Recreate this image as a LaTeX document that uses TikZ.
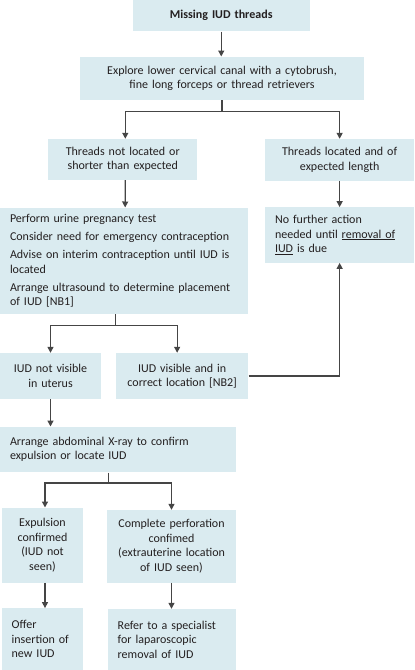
\documentclass[tikz,border=0pt]{standalone}
\usepackage{fontspec}
\setmainfont{Carlito}
\usetikzlibrary{arrows.meta,calc}
\definecolor{boxfill}{HTML}{DAEBF0}
\definecolor{linec}{HTML}{454545}
\definecolor{txt}{HTML}{231F20}
\tikzset{
  box/.style={fill=boxfill,draw=none,inner xsep=10pt,inner ysep=1pt,text=txt,
    font=\fontsize{12}{14.5}\selectfont},
  conn/.style={draw=linec,line width=1.3pt},
  arr/.style={conn,-{Triangle[length=6pt,width=6pt]}}
}
\newcommand\bx[7]{%
 \pgfmathsetmacro\myBW{#4-#2}\pgfmathsetmacro\myBH{#5-#3}%
 \pgfmathsetmacro\myCX{(#2+#4)/2}\pgfmathsetmacro\myCY{-(#3+#5)/2}%
 \pgfmathsetmacro\myTW{#4-#2-20}%
 \node[box,minimum width=\myBW pt,minimum height=\myBH pt,text width=\myTW pt,align=#6] (#1) at (\myCX pt,\myCY pt) {#7};}
\begin{document}
\begin{tikzpicture}
\useasboundingbox (0,0) rectangle (415pt,-670pt);
\bx{b1}{132.5}{0}{310}{31.3}{center}{\textbf{Missing IUD threads}}
\bx{b2}{80}{56.7}{364}{100}{center}{Explore lower cervical canal with a cytobrush,\\fine long forceps or thread retrievers}
\bx{b3}{48.3}{139}{197.3}{180}{center}{Threads not located or\\shorter than expected}
\bx{b4}{265}{139}{414.3}{180.7}{center}{Threads located and of\\expected length}
\bx{b5}{0}{207.7}{248.3}{314}{left}{Perform urine pregnancy test\\[3.5pt]Consider need for emergency contraception\\[3.5pt]Advise on interim contraception until IUD is\\located\\[3.5pt]Arrange ultrasound to determine placement\\of IUD [NB1]}
\bx{b6}{265}{207.3}{414.3}{262.7}{left}{No further action\\needed until \underline{removal of}\\\underline{IUD} is due}
\bx{b7}{0}{353}{101}{399}{center}{IUD not visible\\in uterus}
\bx{b8}{116}{353}{248.3}{399}{center}{IUD visible and in\\correct location [NB2]}
\bx{b9}{0}{426.7}{235.7}{472.3}{left}{Arrange abdominal X-ray to confirm\\expulsion or locate IUD}
\bx{b10}{1.7}{507.7}{83.3}{582.7}{center}{Expulsion\\confirmed\\(IUD not\\seen)}
\bx{b11}{107.3}{510}{235.7}{582.7}{center}{Complete perforation\\confimed\\(extrauterine location\\of IUD seen)}
\bx{b12}{1.7}{608.3}{83.3}{670}{left}{Offer\\insertion of\\new IUD}
\bx{b13}{107.7}{609}{235.7}{670}{left}{Refer to a specialist\\for laparoscopic\\removal of IUD}
% connectors
\draw[arr] (b1.south) -- (b1.south |- b2.north);
\coordinate (s1) at ($(b2.south)+(0,-11.5pt)$);
\draw[conn] (b2.south) -- (s1);
\draw[arr] (s1) -| ($(b3.north)+(2.5pt,0)$);
\draw[arr] (s1) -| (b4.north);
\draw[arr] ($(b3.south)+(2.5pt,0)$) -- ($(b5.north)+(1pt,0)$);
\draw[arr] (b4.south) -- (b6.north);
\coordinate (s2) at ($(b5.south)+(-9pt,-11pt)$);
\draw[conn] ($(b5.south)+(-9pt,0)$) -- (s2);
\draw[arr] (s2) -| (b7.north);
\draw[arr] (s2) -| ($(b8.north)+(-5pt,0)$);
\draw[arr] (b8.east) -| (b6.south);
\draw[arr] (b7.south) -- (b7.south |- b9.north);
\coordinate (s3) at ($(b9.south)+(-9.5pt,-10.5pt)$);
\draw[conn] ($(b9.south)+(-9.5pt,0)$) -- (s3);
\draw[arr] (s3) -| ($(b10.north)+(2.5pt,0)$);
\draw[arr] (s3) -| (b11.north);
\draw[arr] ($(b10.south)+(2.5pt,0)$) -- ($(b12.north)+(2.5pt,0)$);
\draw[arr] (b11.south) -- (b11.south |- b13.north);
\end{tikzpicture}
\end{document}
